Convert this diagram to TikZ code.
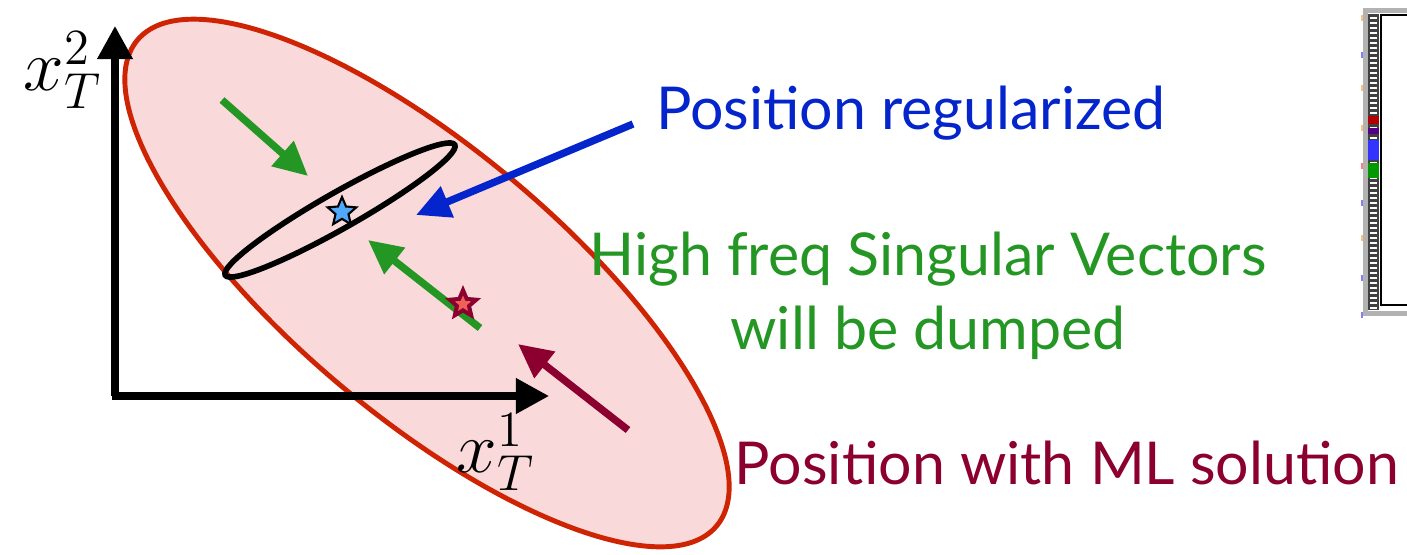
\documentclass[tikz,border=0pt]{standalone}
\usepackage{fontspec}
\setsansfont{Lato}
\usetikzlibrary{arrows.meta,shapes.geometric}
\definecolor{pinkfill}{RGB}{249,217,217}
\definecolor{redline}{RGB}{206,36,4}
\definecolor{mygreen}{RGB}{36,150,36}
\definecolor{mydarkred}{RGB}{140,0,48}
\definecolor{myblue}{RGB}{4,36,204}
\definecolor{starblue}{RGB}{80,168,250}
\definecolor{starred}{RGB}{240,96,90}
\tikzset{
  axisarrow/.style={line width=2pt,-{Triangle[length=0.33cm,width=0.34cm]}},
  fatarrow/.style={line width=2.1pt,-{Triangle[length=0.34cm,width=0.32cm]}},
  lbl/.style={font=\sffamily\fontsize{16.8}{21}\selectfont,inner sep=0pt},
  mathlbl/.style={font=\fontsize{22}{26}\selectfont,inner sep=0pt},
  starshape/.style={star,star points=5,star point ratio=2.2,inner sep=0pt}
}
\begin{document}
\begin{tikzpicture}[x=0.01cm,y=-0.01cm]
\useasboundingbox (0,0) rectangle (1407,554);
% big ellipse
\draw[redline,fill=pinkfill,line width=1.4pt,rotate around={-40:(427,283)}] (427,283) ellipse [x radius=378,y radius=134];
% axes
\coordinate (o) at (115,396);
\coordinate (ytip) at (115,26);
\coordinate (xtip) at (549,396);
\draw[axisarrow] (o) -- (ytip);
\draw[axisarrow] ([xshift=-0.035cm]o) -- (xtip);
\node[mathlbl] (lx2) at (63,70) {$x_T^2$};
\node[mathlbl] (lx1) at (496,452) {$x_T^1$};
% small ellipse
\draw[black,line width=1.6pt,rotate around={29.6:(340,210)}] (340,210) ellipse [x radius=132,y radius=18];
% stars
\node[starshape,minimum size=0.3cm,fill=starblue,draw=black,line width=0.6pt] (sb) at (342,212) {};
% green arrows
\coordinate (g1s) at (222,100);
\coordinate (g1e) at (308,176);
\draw[fatarrow,mygreen] (g1s) -- (g1e);
\coordinate (g2s) at (480,328);
\coordinate (g2e) at (368,240);
\draw[fatarrow,mygreen] (g2s) -- (g2e);
\node[starshape,minimum size=0.38cm,fill=mydarkred] (sr) at (463,304) {};
\node[starshape,minimum size=0.17cm,fill=starred] (sri) at (sr.center) {};
% dark red arrow
\coordinate (rs) at (628,430);
\coordinate (re) at (518,344);
\draw[fatarrow,mydarkred] (rs) -- (re);
% blue arrow
\coordinate (bs) at (633,124);
\coordinate (be) at (416,215);
\draw[fatarrow,myblue] (bs) -- (be);
% texts
\node[lbl,text=myblue] (t1) at (911,113) {Position regularized};
\node[lbl,text=mygreen,align=center] (t2) at (928,296) {High freq Singular Vectors\\will be dumped};
\node[lbl,text=mydarkred] (t3) at (1067,463) {Position with ML solution};
% right panel fragment
\fill[gray!60] (1363,8) rectangle (1407,316);
\fill[white] (1368,13) rectangle (1407,311);
\fill[black!75] (1368,14) rectangle (1379,310);
\foreach \yy in {18,23,...,308} {\draw[white,line width=0.4pt] (1370,\yy) -- (1377,\yy);}
\fill[red!70!black] (1368,116) rectangle (1379,124);
\fill[mydarkred!60!blue] (1368,128) rectangle (1379,134);
\fill[blue!80] (1368,140) rectangle (1379,160);
\fill[green!60!black] (1368,163) rectangle (1379,178);
\draw[black,line width=0.8pt] (1381,15) rectangle (1410,305);
\foreach \yy/\cc in {15/orange,52/blue,85/orange,125/orange,163/red,200/blue,235/orange,275/blue,312/blue} {\fill[\cc!50] (1361,\yy) rectangle (1363,\yy+6);}
\end{tikzpicture}
\end{document}
